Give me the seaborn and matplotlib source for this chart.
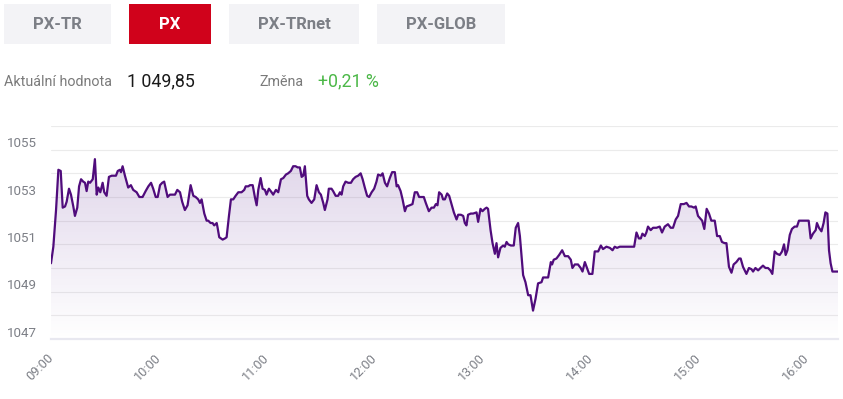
import numpy as np
import pandas as pd
import matplotlib
matplotlib.use('Agg')
import matplotlib.pyplot as plt
import matplotlib.transforms as mtransforms
from matplotlib.patches import Rectangle
import seaborn as sns

# ===== DATA : index PX, minutes depuis 09:00 =====
minutes = [
    0, 1.3, 2.8, 4.1, 5.4, 6.5, 7.8, 8.7, 10.0, 11.1, 12.4, 13.3, 14.6, 15.6, 16.7,
    17.9, 18.9, 19.8, 20.7, 21.7, 23.2, 24.4, 25.4, 26.3, 27.4, 28.7, 29.6, 30.9,
    32.2, 33.7, 36.1, 37.1, 38.3, 38.9, 39.8, 41.1, 42.9, 44.4, 45.7, 47.6, 49.1,
    50.9, 52.6, 54.1, 55.6, 56.8, 58.2, 59.3, 60.6, 61.8, 62.9, 63.9, 64.8, 66.1,
    67.4, 68.9, 70.2, 71.7,
    72.9, 74.4, 75.9, 77.6, 79.1, 80.4, 81.8, 82.8, 83.7, 85.2, 86.5, 87.4, 88.7,
    89.8, 90.7, 92.1, 92.6, 93.5, 95.4, 96.7, 97.6, 98.9, 100.0, 101.3, 102.6,
    104.1, 105.9, 107.4, 108.2, 109.6, 110.6, 112.1, 113.3, 114.3, 115.2, 116.5,
    117.6, 118.9, 119.8, 121.1, 122.6, 123.5, 125.0, 126.3, 127.8, 129.1, 130.6,
    131.8, 133.3, 134.6, 135.9, 137.1, 138.3, 139.3, 140.2, 141.1, 142.4, 143.3,
    144.8, 146.3, 147.6, 148.9, 150.0, 151.3, 152.2, 153.7, 154.4, 155.9, 156.8,
    158.2, 159.6, 160.6, 161.5, 162.4, 163.7, 165.2, 166.7, 167.9, 169.3, 170.7,
    172.1, 173.2, 174.4, 175.7, 176.8, 178.2, 179.6, 180.9, 181.8, 183.3, 184.3,
    185.6, 186.8, 188.3, 189.6, 191.1, 192.1, 192.9, 194.3, 195.4, 196.7, 197.6,
    199.4, 200.9, 202.2, 203.5, 204.6, 205.9, 207.2, 208.3, 210.0, 211.5, 212.8,
    213.9, 214.8, 215.7,
    217.1, 217.9, 218.9, 220.2, 221.3, 222.6, 223.9, 225.4, 226.3, 227.8, 229.1,
    230.0, 230.9, 231.8, 233.3, 234.6, 236.5, 237.4, 238.7, 239.8, 241.1, 242.1,
    242.9, 244.3, 245.4, 246.7, 247.6, 248.5, 249.8, 251.3, 252.2, 253.2, 254.1,
    255.6, 257.2, 258.3, 259.6, 260.6, 261.5, 262.4, 263.7, 265.2, 266.5, 267.9,
    269.3, 270.7, 272.6, 273.5, 275.0, 276.3, 277.8, 278.5, 279.4, 280.9, 282.4,
    284.1, 285.6,
    287.4, 288.9, 289.8, 291.1, 292.9, 294.4, 295.4, 296.7, 297.9, 299.1, 300.9,
    302.2, 304.1, 305.6, 306.8, 308.7, 310.6, 312.1, 313.3, 314.6, 316.1, 318.9,
    322.6, 324.1, 325.4, 326.7, 327.8, 328.7, 330.0, 330.9, 331.8, 333.3, 334.6,
    336.5, 338.3, 339.6, 341.1, 342.9, 344.4, 345.7, 347.2, 348.5, 350.0, 351.7,
    353.2, 354.6, 355.9, 357.4, 358.3, 359.6,
    361.9, 363.1, 364.4, 365.7, 367.0, 368.9, 370.2, 371.7, 372.9, 374.4, 375.4,
    376.8, 378.2, 379.4, 380.9, 382.4, 383.3, 384.6, 386.5, 387.9, 389.3, 390.2,
    391.5, 393.0, 394.3, 395.7, 397.1, 398.5, 399.8, 400.9, 402.2, 403.5, 405.0,
    406.3, 407.4, 408.3, 409.3, 410.6, 411.8, 413.3, 414.6, 415.7, 418.0, 421.1,
    422.2, 423.5, 425.0, 425.7, 426.8, 428.2, 429.4, 430.4, 431.5, 432.4, 433.3,
    434.3, 437.4,
]
values = [
    1050.2, 1050.9, 1052.45, 1054.15, 1054.1, 1052.55, 1052.6, 1052.8, 1053.35,
    1053.1, 1052.6, 1052.2, 1052.55, 1053.45, 1053.75, 1053.65, 1053.6, 1053.25,
    1053.65, 1053.6, 1053.75, 1054.6, 1053.1, 1053.4, 1053.2, 1053.6, 1053.2,
    1053.05, 1053.85, 1053.9, 1053.9, 1054.1, 1054.15, 1054.05, 1054.3, 1053.9,
    1053.4, 1053.5, 1053.3, 1053.2, 1053.0, 1053.0, 1053.25, 1053.45, 1053.6,
    1053.35, 1053.0, 1053.0, 1053.5, 1053.6, 1053.65, 1053.3, 1053.0, 1053.1,
    1053.1, 1053.1, 1053.3, 1053.2,
    1052.8, 1052.45, 1052.65, 1053.5, 1053.05, 1053.0, 1052.9, 1052.75, 1052.9,
    1052.3, 1052.0, 1052.0, 1051.9, 1051.9, 1051.8, 1051.9, 1051.7, 1051.3,
    1051.2, 1051.25, 1051.3, 1052.2, 1052.9, 1052.9, 1053.05, 1053.2, 1053.2,
    1053.3, 1053.45, 1053.45, 1053.5, 1053.5, 1053.0, 1052.65, 1053.3, 1053.8,
    1053.35, 1053.3, 1053.1, 1053.35, 1053.2, 1053.1, 1053.3, 1053.2, 1053.75,
    1053.8, 1053.95, 1054.0, 1054.1, 1054.3, 1054.3, 1054.25, 1054.25, 1053.85,
    1053.9, 1054.3, 1053.05, 1052.9,
    1052.75, 1052.9, 1053.5, 1053.2, 1053.1, 1052.75, 1052.45, 1052.9, 1053.35,
    1053.35, 1053.25, 1053.05, 1053.05, 1053.2, 1053.1, 1053.45, 1053.65, 1053.6,
    1053.6, 1053.75, 1053.85, 1053.9, 1054.0, 1053.75, 1053.4, 1053.05, 1053.0,
    1053.2, 1053.35, 1053.65, 1053.95, 1053.9, 1054.0, 1053.6, 1053.45, 1053.8,
    1054.05, 1054.05, 1053.45, 1053.5, 1053.25, 1052.9, 1052.4, 1052.6, 1052.65,
    1052.7, 1053.2, 1053.2, 1053.0, 1053.0, 1053.0, 1052.75, 1052.4, 1052.55,
    1052.55, 1052.7, 1052.65, 1053.2,
    1053.1, 1052.9, 1052.9, 1053.15, 1053.05, 1052.7, 1052.35, 1052.05, 1052.25,
    1052.25, 1052.2, 1051.9, 1051.8, 1052.25, 1052.3, 1052.3, 1052.35, 1051.95,
    1052.5, 1052.4, 1052.5, 1052.55, 1052.5, 1051.6, 1051.05, 1050.6, 1051.05,
    1050.45, 1050.85, 1050.95, 1050.9, 1051.1, 1051.0, 1050.95, 1050.95, 1051.7,
    1051.9, 1051.35, 1050.5, 1049.7, 1049.4, 1048.85, 1048.85, 1048.2, 1048.7,
    1049.35, 1049.4, 1049.6, 1049.6, 1049.6, 1050.25, 1050.15, 1050.35, 1050.4,
    1050.55, 1050.75, 1050.5,
    1050.5, 1050.35, 1050.0, 1050.15, 1050.15, 1050.0, 1049.85, 1050.25, 1050.0,
    1049.75, 1049.75, 1050.7, 1050.7, 1050.95, 1050.8, 1050.9, 1050.85, 1050.75,
    1050.9, 1050.85, 1050.9, 1050.9, 1050.9, 1050.9, 1051.5, 1051.25, 1051.25,
    1051.45, 1051.35, 1051.5, 1051.75, 1051.6, 1051.7, 1051.7, 1051.75, 1051.5,
    1051.75, 1051.85, 1051.7, 1051.7, 1052.05, 1052.2, 1052.7, 1052.7, 1052.75,
    1052.6, 1052.6, 1052.55, 1052.6, 1052.2,
    1052.0, 1051.65, 1052.5, 1052.3, 1052.0, 1052.0, 1051.35, 1051.35, 1051.1,
    1051.05, 1051.05, 1050.05, 1049.8, 1050.15, 1050.25, 1050.4, 1050.4, 1050.05,
    1049.75, 1050.0, 1049.95, 1049.85, 1050.0, 1049.9, 1050.0, 1050.1, 1050.0,
    1050.0, 1049.9, 1049.75, 1050.7, 1050.6, 1050.55, 1050.7, 1051.0, 1050.55,
    1050.75, 1051.4, 1051.65, 1051.75, 1051.75, 1052.0, 1052.0, 1052.0, 1051.25,
    1051.45, 1051.6, 1051.9, 1051.7, 1051.55, 1051.9, 1052.35, 1052.3, 1050.75,
    1050.2, 1049.85, 1049.85,
]

hour_labels = ['09:00', '10:00', '11:00', '12:00', '13:00', '14:00', '15:00', '16:00']
y_levels = list(range(1047, 1057))
tabs = ['PX-TR', 'PX', 'PX-TRnet', 'PX-GLOB']
active_tab = 'PX'
current_value = '1 049,85'
change_value = '+0,21 %'

# ===== STYLE =====
sns.set_style('white')
plt.rcParams['font.family'] = ['Roboto', 'DejaVu Sans']

line_color = '#500c7c'
grey_text = '#7c7f86'

fig = plt.figure(figsize=(8.43, 3.99), dpi=100)
ax = fig.add_axes([51 / 843, 1 - 339 / 399, 787 / 843, 213 / 399])

df = pd.DataFrame({'t': minutes, 'v': values})
sns.lineplot(data=df, x='t', y='v', ax=ax, color=line_color, linewidth=1.6, zorder=3)

ax.set_xlim(0, minutes[-1])
ax.set_ylim(y_levels[0], y_levels[-1])

# remplissage en dégradé sous la courbe
poly = ax.fill_between(df['t'], df['v'], y_levels[0], facecolor='none', edgecolor='none')
grad = np.zeros((256, 1, 4))
grad[..., 0], grad[..., 1], grad[..., 2] = 0.50, 0.33, 0.66
grad[..., 3] = np.linspace(0.28, 0.0, 256)[:, None]
im = ax.imshow(grad, extent=(0, minutes[-1], y_levels[0], y_levels[-1]),
               aspect='auto', origin='upper', zorder=2)
im.set_clip_path(poly.get_paths()[0], transform=ax.transData)

# axes
ax.set_xlabel('')
ax.set_ylabel('')
ax.set_xticks([i * 60 for i in range(len(hour_labels))])
ax.set_xticklabels(hour_labels, rotation=45, ha='right', va='center',
                   rotation_mode='anchor', color=grey_text, fontsize=9.2)
ax.set_yticks(y_levels)
ax.set_yticklabels([str(v) if v % 2 else '' for v in y_levels],
                   color=grey_text, fontsize=9.6)
ax.tick_params(axis='x', length=0, pad=12)
ax.tick_params(axis='y', length=0, pad=10)
shift = mtransforms.ScaledTranslation(0, 0.075, fig.dpi_scale_trans)
for lbl in ax.get_yticklabels():
    lbl.set_transform(lbl.get_transform() + shift)

ax.grid(axis='y', color='#ebebeb', linewidth=0.8, zorder=1)
ax.grid(axis='x', visible=False)
for side in ['left', 'right', 'top']:
    ax.spines[side].set_visible(False)
ax.spines['bottom'].set_color('#e8e8f0')
ax.spines['bottom'].set_linewidth(1.6)
ax.set_facecolor('white')

# ===== EN-TETE =====
hdr = fig.add_axes([0, 0, 1, 1], facecolor='none')
hdr.set_xlim(0, 843)
hdr.set_ylim(399, 0)
hdr.axis('off')

tab_boxes = [(4, 107), (129, 82), (229, 130), (377, 128)]
for name, (x0, w) in zip(tabs, tab_boxes):
    active = name == active_tab
    hdr.add_patch(Rectangle((x0, 4), w, 40, facecolor='#d0021b' if active else '#f3f3f6',
                            edgecolor='none'))
    hdr.text(x0 + w / 2, 24.5, name, ha='center', va='center', fontsize=12,
             fontweight='bold', color='white' if active else grey_text)

hdr.text(4, 82, 'Aktuální hodnota', ha='left', va='center', fontsize=10.3, color='#7a7a7a')
hdr.text(127, 81, current_value, ha='left', va='center', fontsize=12.8, color='#1a1a1a')
hdr.text(259, 82, 'Změna', ha='left', va='center', fontsize=10.3, color='#7a7a7a')
hdr.text(318, 81, change_value, ha='left', va='center', fontsize=12.8, color='#4cb848')

plt.savefig('out.png', dpi=100)
